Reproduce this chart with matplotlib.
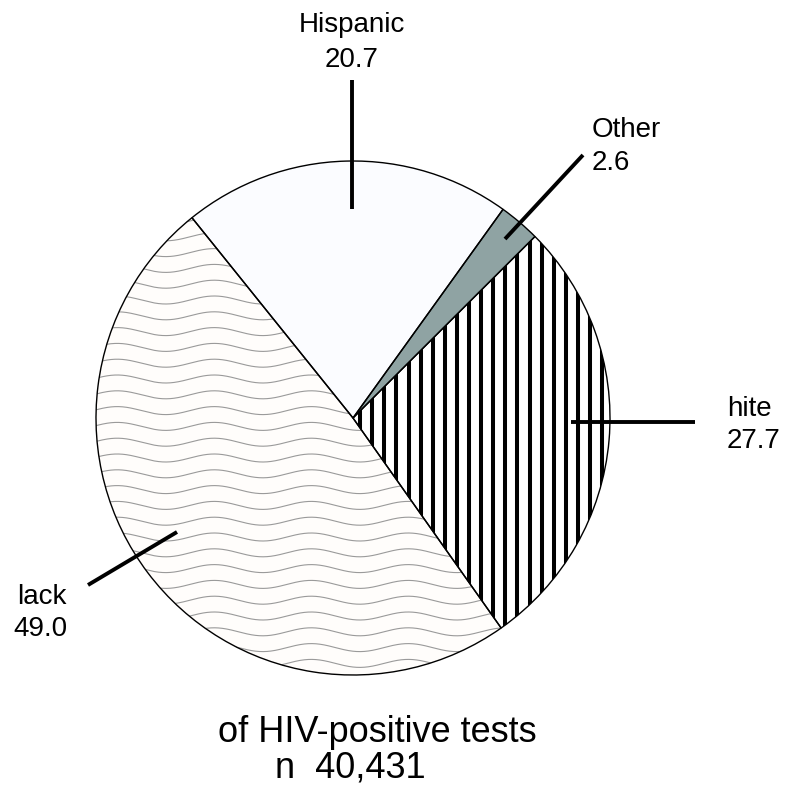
import numpy as np
import matplotlib.pyplot as plt

plt.rcParams['font.family'] = ['Liberation Sans', 'DejaVu Sans']

# ---- data ----
categories = ['lack', 'hite', 'Other', 'Hispanic']
values = [49.0, 27.7, 2.6, 20.7]
value_labels = ['49.0', '27.7', '2.6', '20.7']
title_lines = ['of HIV-positive tests', 'n  40,431']

W, H = 793, 788
fig = plt.figure(figsize=(W / 100, H / 100), dpi=100)
ax = fig.add_axes([0, 0, 1, 1])


def py(y_img):
    return H - y_img


cx, cy = 353, py(418)
R = 257
fills = ['#fffdfb', '#ffffff', '#8fa3a3', '#fbfcff']

wedges, _ = ax.pie(values, startangle=128.8, counterclock=True,
                   center=(cx, cy), radius=R, colors=fills,
                   wedgeprops=dict(linewidth=0))

# wavy texture in the first slice
xs = np.linspace(cx - R, cx + R, 1200)
A, lam = 4.0, 97.0
for y0 in np.arange(cy - R - 20, cy + R + 20, 15.8):
    ln, = ax.plot(xs, y0 + A * np.sin(2 * np.pi * (xs - 190) / lam),
                  color='#9a9a9a', lw=0.8, zorder=2)
    ln.set_clip_path(wedges[0])

# vertical stripes in the second slice
for x in np.arange(541.7 - 12.1 * 30, cx + R + 12, 12.1):
    ln, = ax.plot([x, x], [cy - R, cy + R], color='black', lw=2.9,
                  solid_capstyle='butt', zorder=2)
    ln.set_clip_path(wedges[1])

# outlines
ax.pie(values, startangle=128.8, counterclock=True, center=(cx, cy),
       radius=R, wedgeprops=dict(fill=False, edgecolor='black',
                                 linewidth=1.0, zorder=5))

ax.set_xlim(0, W)
ax.set_ylim(0, H)
ax.set_aspect('auto')
ax.axis('off')

# leader lines
leaders = [((88, 585), (177, 532)),
           ((571, 422), (695, 422)),
           ((583, 155), (505, 239)),
           ((352, 80), (352, 209))]
for (x1, y1), (x2, y2) in leaders:
    ax.plot([x1, x2], [py(y1), py(y2)], color='black', lw=2.8,
            solid_capstyle='butt', zorder=6)

fs = 20
# labels: (x, y_name, y_value, ha)
label_pos = [(67, 597, 629, 'right'),
             (727, 409, 441, 'left'),
             (592, 130, 163, 'left'),
             (352, 25, 60, 'center')]
for cat, val, (x, yn, yv, ha) in zip(categories, value_labels, label_pos):
    ax.text(x, py(yn), cat, fontsize=fs, ha=ha, va='center')
    ax.text(x, py(yv), val, fontsize=fs, ha=ha, va='center')

ax.text(377, py(732), title_lines[0], fontsize=26, ha='center', va='center')
ax.text(275, py(768), title_lines[1], fontsize=26, ha='left', va='center')

fig.savefig('out.png', dpi=100)
